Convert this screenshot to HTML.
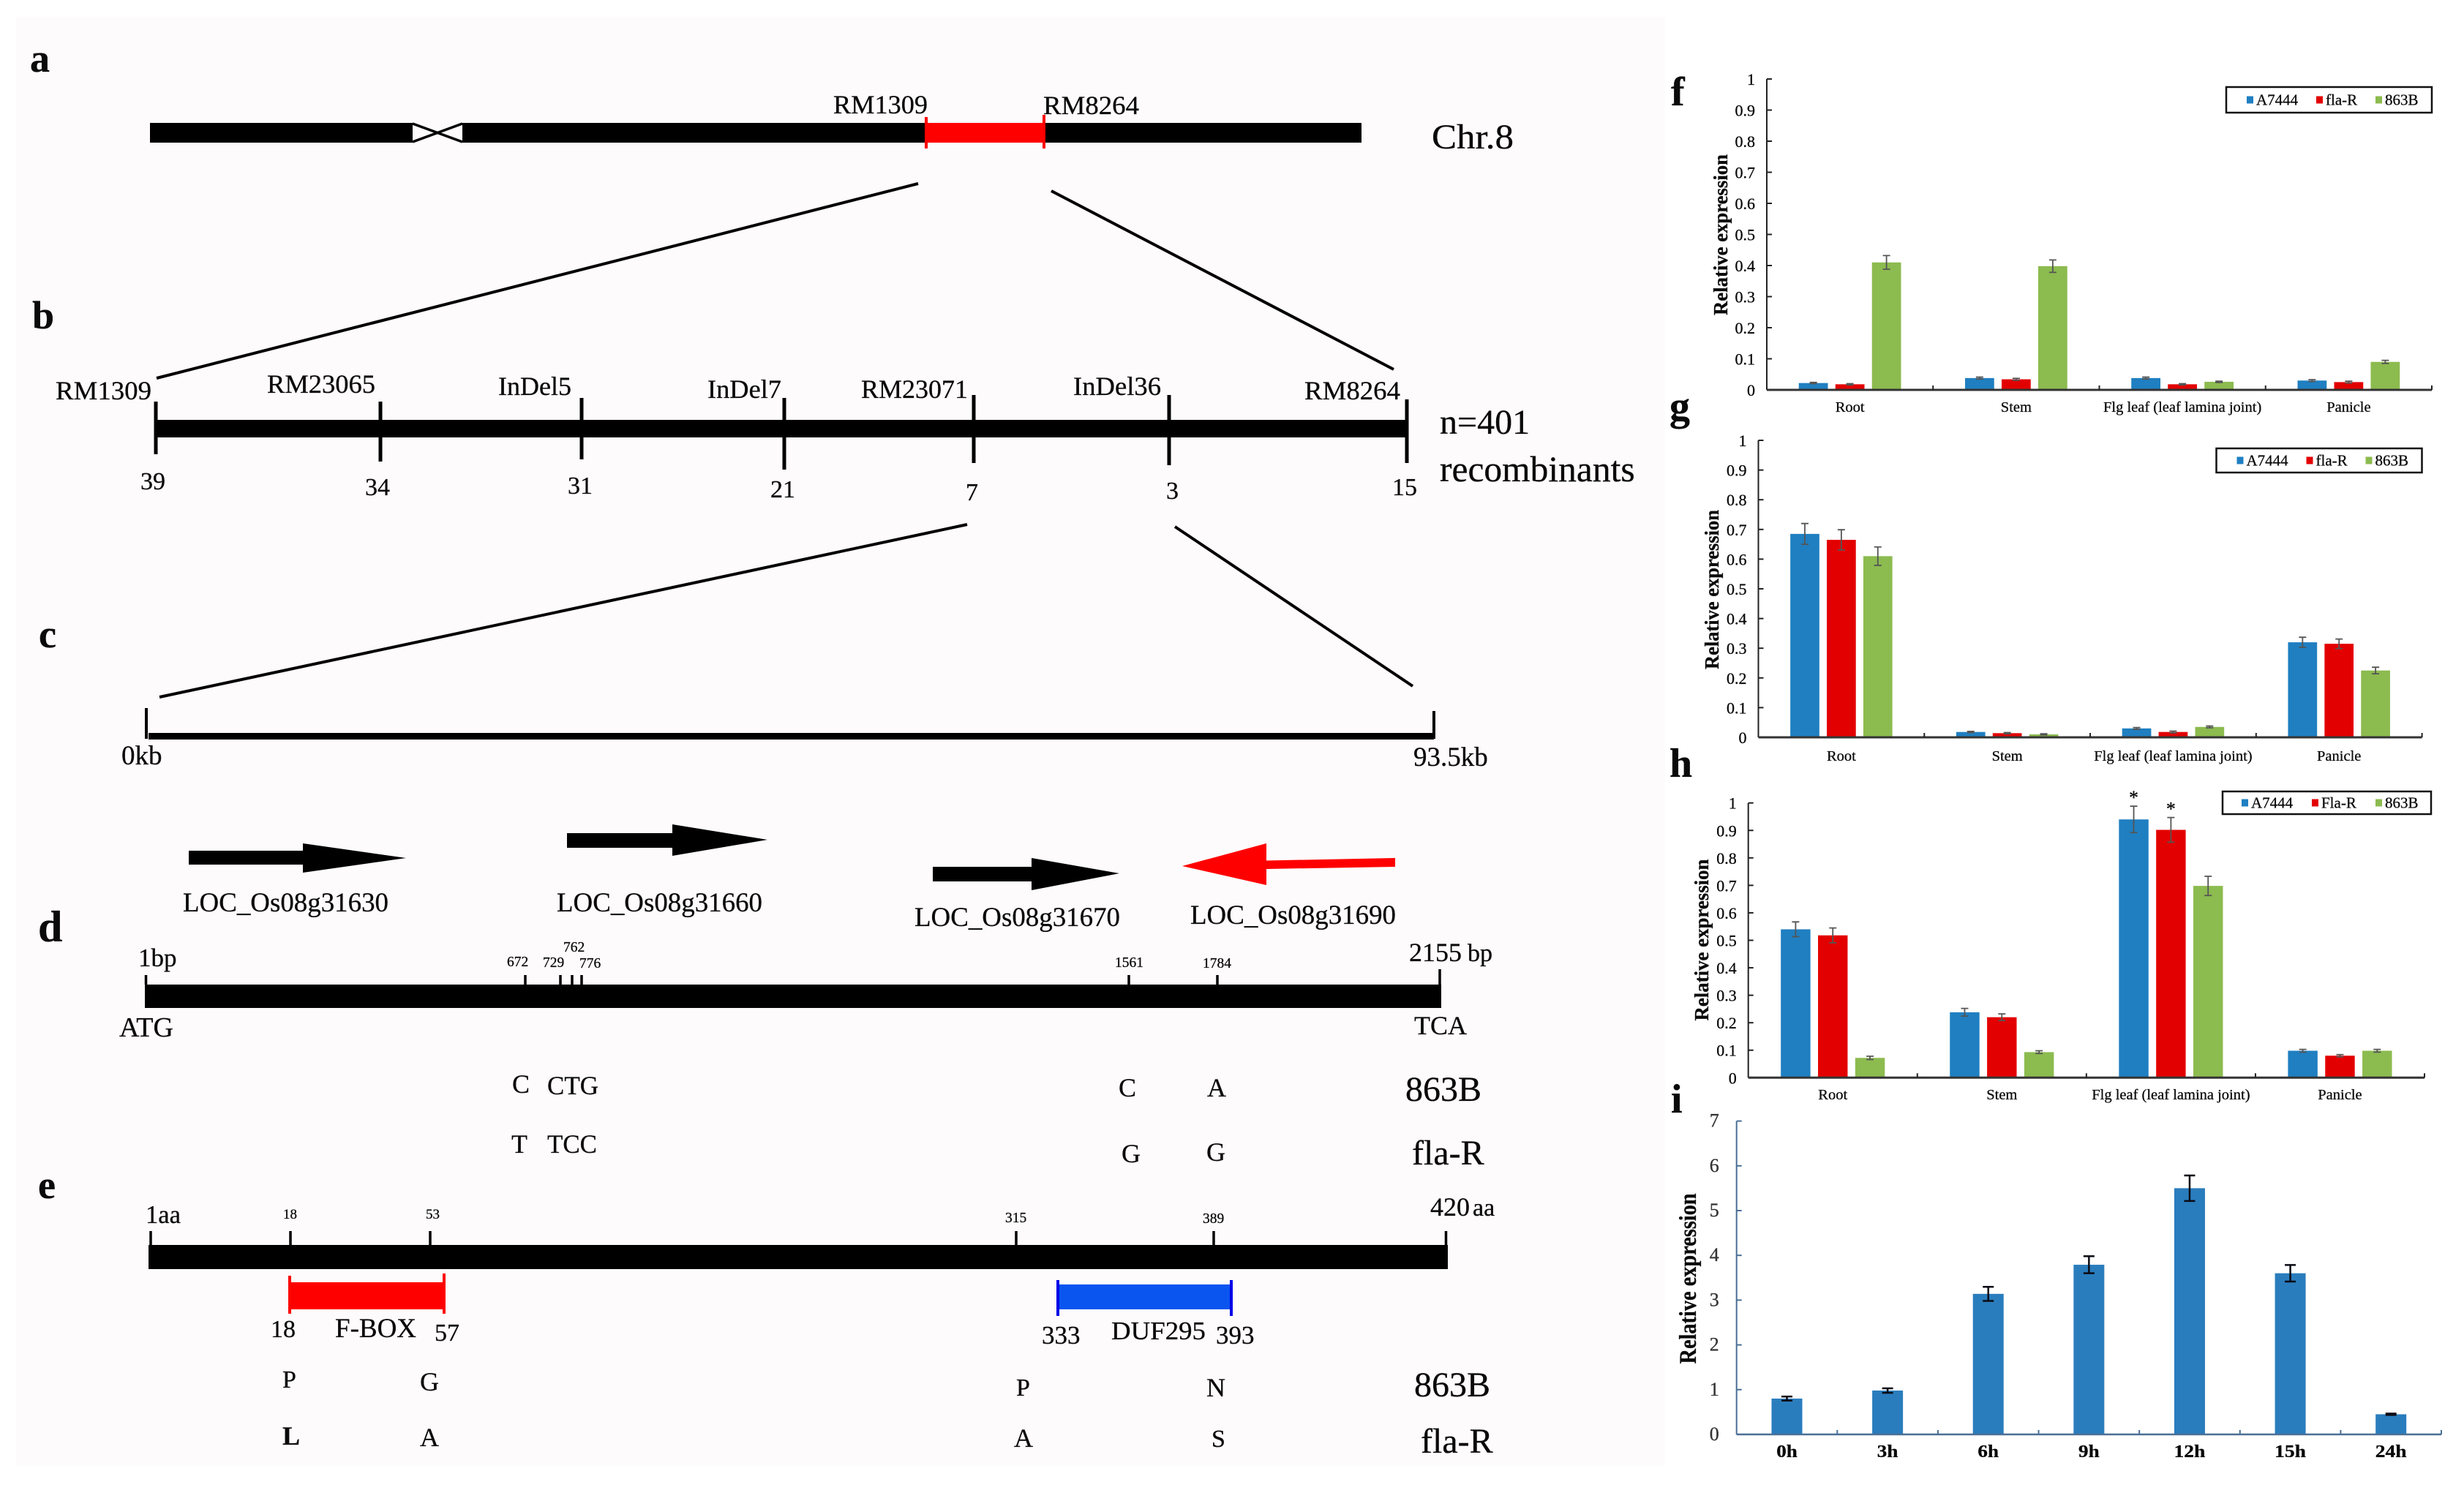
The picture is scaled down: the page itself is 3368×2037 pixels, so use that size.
<!DOCTYPE html>
<html>
<head>
<meta charset="utf-8">
<title>fla-R gene mapping and expression figure</title>
<style>
html,body{margin:0;padding:0;background:#fff;}
svg{display:block;}
text{font-family:"Liberation Serif",serif;fill:#0a0a0a;stroke:#0a0a0a;stroke-width:.3;}
.b{font-weight:bold;}
</style>
</head>
<body>
<svg id="figure" xmlns="http://www.w3.org/2000/svg" width="3368" height="2037" viewBox="0 0 3368 2037">
<rect x="0" y="0" width="3368" height="2037" fill="#ffffff"/>
<rect x="22" y="23" width="2254" height="1981" fill="#fdfbfc"/>

<!-- Panel a -->
<g>
<text class="b" x="41" y="98" font-size="54">a</text>
<rect x="205" y="168" width="359" height="27" fill="#000"/>
<rect x="632" y="168" width="1229" height="27" fill="#000"/>
<path d="M564 169L632 194M564 194L632 169" stroke="#000" stroke-width="3.5" fill="none"/>
<rect x="1266" y="168" width="161" height="27" fill="#fe0000"/>
<rect x="1264" y="160" width="4" height="43" fill="#fe0000"/>
<rect x="1425" y="157" width="4" height="46" fill="#fe0000"/>
<text x="1139" y="155" font-size="36" textLength="129" lengthAdjust="spacingAndGlyphs">RM1309</text>
<text x="1426" y="156" font-size="36" textLength="131" lengthAdjust="spacingAndGlyphs">RM8264</text>
<text x="1957" y="203" font-size="48" textLength="112" lengthAdjust="spacingAndGlyphs">Chr.8</text>
<line x1="214" y1="517" x2="1255" y2="251" stroke="#000" stroke-width="4"/>
<line x1="1437" y1="261" x2="1905" y2="505" stroke="#000" stroke-width="4"/>
</g>

<!-- Panel b -->
<g>
<text class="b" x="44" y="449" font-size="54">b</text>
<rect x="214" y="574" width="1711" height="24" fill="#000"/>
<g stroke="#000" stroke-width="5">
<line x1="213" y1="549" x2="213" y2="621"/>
<line x1="520" y1="549" x2="520" y2="631"/>
<line x1="795" y1="544" x2="795" y2="628"/>
<line x1="1072" y1="544" x2="1072" y2="642"/>
<line x1="1331" y1="540" x2="1331" y2="633"/>
<line x1="1598" y1="540" x2="1598" y2="636"/>
<line x1="1923" y1="546" x2="1923" y2="633"/>
</g>
<text x="76" y="546" font-size="36" textLength="131" lengthAdjust="spacingAndGlyphs">RM1309</text>
<text x="365" y="537" font-size="36" textLength="148" lengthAdjust="spacingAndGlyphs">RM23065</text>
<text x="681" y="540" font-size="36" textLength="100" lengthAdjust="spacingAndGlyphs">InDel5</text>
<text x="967" y="544" font-size="36" textLength="101" lengthAdjust="spacingAndGlyphs">InDel7</text>
<text x="1177" y="544" font-size="36" textLength="146" lengthAdjust="spacingAndGlyphs">RM23071</text>
<text x="1467" y="540" font-size="36" textLength="120" lengthAdjust="spacingAndGlyphs">InDel36</text>
<text x="1783" y="546" font-size="36" textLength="131" lengthAdjust="spacingAndGlyphs">RM8264</text>
<text x="192" y="669" font-size="34">39</text>
<text x="499" y="677" font-size="34">34</text>
<text x="776" y="675" font-size="34">31</text>
<text x="1053" y="680" font-size="34">21</text>
<text x="1320" y="684" font-size="34">7</text>
<text x="1594" y="682" font-size="34">3</text>
<text x="1903" y="677" font-size="34">15</text>
<text x="1968" y="593" font-size="48">n=401</text>
<text x="1968" y="658" font-size="49.5">recombinants</text>
<line x1="218" y1="953" x2="1322" y2="717" stroke="#000" stroke-width="4"/>
<line x1="1606" y1="720" x2="1931" y2="938" stroke="#000" stroke-width="4"/>
</g>

<!-- Panel c -->
<g>
<text class="b" x="53" y="885" font-size="54">c</text>
<rect x="203" y="1002" width="1757" height="9" fill="#000"/>
<line x1="200" y1="968" x2="200" y2="1010" stroke="#000" stroke-width="4"/>
<line x1="1960" y1="972" x2="1960" y2="1010" stroke="#000" stroke-width="4"/>
<text x="166" y="1045" font-size="37">0kb</text>
<text x="1932" y="1047" font-size="37">93.5kb</text>
<polygon points="258,1163 414,1163 414,1153 555,1173 414,1193 414,1182 258,1182" fill="#000"/>
<polygon points="775,1139 919,1139 919,1127 1049,1148 919,1170 919,1159 775,1159" fill="#000"/>
<polygon points="1275,1185 1410,1185 1410,1173 1530,1194 1410,1217 1410,1205 1275,1205" fill="#000"/>
<polygon points="1616,1184 1731,1153 1731,1176.5 1907,1173 1907,1185 1731,1188 1731,1210" fill="#fe0000"/>
<text x="250" y="1246" font-size="37" textLength="281" lengthAdjust="spacingAndGlyphs">LOC_Os08g31630</text>
<text x="761" y="1246" font-size="37" textLength="281" lengthAdjust="spacingAndGlyphs">LOC_Os08g31660</text>
<text x="1250" y="1266" font-size="37" textLength="281" lengthAdjust="spacingAndGlyphs">LOC_Os08g31670</text>
<text x="1627" y="1263" font-size="37" textLength="281" lengthAdjust="spacingAndGlyphs">LOC_Os08g31690</text>
</g>

<!-- Panel d -->
<g>
<text class="b" x="52" y="1287" font-size="60">d</text>
<rect x="198" y="1346" width="1772" height="32" fill="#000"/>
<g stroke="#000" stroke-width="3.5">
<line x1="199.5" y1="1333" x2="199.5" y2="1346"/>
<line x1="718" y1="1333" x2="718" y2="1346"/>
<line x1="766" y1="1333" x2="766" y2="1346"/>
<line x1="782" y1="1333" x2="782" y2="1346"/>
<line x1="795" y1="1333" x2="795" y2="1346"/>
<line x1="1543" y1="1333" x2="1543" y2="1346"/>
<line x1="1664" y1="1333" x2="1664" y2="1346"/>
<line x1="1968" y1="1325" x2="1968" y2="1346"/>
</g>
<text x="189" y="1321" font-size="35">1bp</text>
<text x="693" y="1321" font-size="19.5">672</text>
<text x="742" y="1322" font-size="19.5">729</text>
<text x="770" y="1301" font-size="19.5">762</text>
<text x="792" y="1323" font-size="19.5">776</text>
<text x="1524" y="1322" font-size="19.5">1561</text>
<text x="1644" y="1323" font-size="19.5">1784</text>
<text x="1926" y="1314" font-size="36">2155</text>
<text x="2006" y="1314" font-size="34">bp</text>
<text x="163" y="1417" font-size="38">ATG</text>
<text x="1933" y="1414" font-size="36">TCA</text>
<text x="700" y="1494" font-size="36">C</text>
<text x="748" y="1496" font-size="36" textLength="70" lengthAdjust="spacingAndGlyphs">CTG</text>
<text x="1529" y="1499" font-size="36">C</text>
<text x="1650" y="1499" font-size="36">A</text>
<text x="1921" y="1505" font-size="48">863B</text>
<text x="699" y="1576" font-size="36">T</text>
<text x="748" y="1576" font-size="36" textLength="68" lengthAdjust="spacingAndGlyphs">TCC</text>
<text x="1533" y="1589" font-size="36">G</text>
<text x="1649" y="1587" font-size="36">G</text>
<text x="1930" y="1592" font-size="48">fla-R</text>
</g>

<!-- Panel e -->
<g>
<text class="b" x="52" y="1638" font-size="54">e</text>
<rect x="203" y="1702" width="1776" height="33" fill="#000"/>
<g stroke="#000" stroke-width="3.5">
<line x1="206" y1="1683" x2="206" y2="1702"/>
<line x1="397" y1="1683" x2="397" y2="1702"/>
<line x1="588" y1="1683" x2="588" y2="1702"/>
<line x1="1389" y1="1683" x2="1389" y2="1702"/>
<line x1="1659" y1="1683" x2="1659" y2="1702"/>
<line x1="1976.5" y1="1683" x2="1976.5" y2="1702"/>
</g>
<text x="199" y="1672" font-size="35" textLength="48" lengthAdjust="spacingAndGlyphs">1aa</text>
<text x="387" y="1666" font-size="19">18</text>
<text x="582" y="1666" font-size="19">53</text>
<text x="1374" y="1671" font-size="19.5">315</text>
<text x="1644" y="1672" font-size="19.5">389</text>
<text x="1955" y="1662" font-size="36">420</text>
<text x="2013" y="1662" font-size="34">aa</text>
<rect x="396" y="1753" width="211" height="37" fill="#fe0000"/>
<rect x="394" y="1744" width="4" height="52" fill="#fe0000"/>
<rect x="605" y="1741" width="4" height="55" fill="#fe0000"/>
<text x="370" y="1828" font-size="34">18</text>
<text x="458" y="1828" font-size="37">F-BOX</text>
<text x="594" y="1833" font-size="34">57</text>
<rect x="1446" y="1756" width="236" height="34" fill="#0a55f0"/>
<rect x="1444" y="1750" width="4" height="49" fill="#0000e8"/>
<rect x="1681" y="1750" width="4" height="49" fill="#0000e8"/>
<text x="1424" y="1837" font-size="35">333</text>
<text x="1519" y="1831" font-size="35" textLength="129" lengthAdjust="spacingAndGlyphs">DUF295</text>
<text x="1662" y="1837" font-size="35">393</text>
<text x="386" y="1897" font-size="34">P</text>
<text x="574" y="1901" font-size="36">G</text>
<text x="1389" y="1908" font-size="34">P</text>
<text x="1649" y="1909" font-size="36">N</text>
<text x="1933" y="1909" font-size="48">863B</text>
<text class="b" x="386" y="1975" font-size="36">L</text>
<text x="574" y="1977" font-size="36">A</text>
<text x="1386" y="1978" font-size="36">A</text>
<text x="1656" y="1978" font-size="34">S</text>
<text x="1942" y="1986" font-size="48">fla-R</text>
</g>

<!-- Panel letters for the charts -->
<text class="b" x="2284" y="144" font-size="56">f</text>
<text class="b" x="2282" y="574" font-size="56">g</text>
<text class="b" x="2282" y="1062" font-size="56">h</text>
<text class="b" x="2284" y="1521" font-size="56">i</text>

<g id="charts"></g>
</svg>

<script>
const categories = ['Root', 'Stem', 'Flg leaf (leaf lamina joint)', 'Panicle'];
const yTicksUnit = [0, 0.1, 0.2, 0.3, 0.4, 0.5, 0.6, 0.7, 0.8, 0.9, 1];
const seriesColors = ['#1f7fc1', '#e30000', '#8cbb4f'];

const fSeriesNames = ['A7444', 'fla-R', '863B'];
const fA7444 = [0.022, 0.038, 0.038, 0.030];
const fFlaR = [0.018, 0.034, 0.018, 0.025];
const f863B = [0.410, 0.398, 0.026, 0.090];
const fA7444Err = [0.002, 0.003, 0.003, 0.003];
const fFlaRErr = [0.002, 0.003, 0.002, 0.003];
const f863BErr = [0.022, 0.020, 0.002, 0.005];

const gSeriesNames = ['A7444', 'fla-R', '863B'];
const gA7444 = [0.685, 0.018, 0.030, 0.320];
const gFlaR = [0.665, 0.014, 0.018, 0.315];
const g863B = [0.610, 0.010, 0.035, 0.225];
const gA7444Err = [0.035, 0.002, 0.003, 0.017];
const gFlaRErr = [0.034, 0.002, 0.003, 0.016];
const g863BErr = [0.031, 0.002, 0.003, 0.011];

const hSeriesNames = ['A7444', 'Fla-R', '863B'];
const hA7444 = [0.540, 0.238, 0.940, 0.098];
const hFlaR = [0.518, 0.220, 0.902, 0.080];
const h863B = [0.072, 0.093, 0.698, 0.098];
const hA7444Err = [0.027, 0.014, 0.048, 0.005];
const hFlaRErr = [0.027, 0.012, 0.045, 0.004];
const h863BErr = [0.006, 0.005, 0.035, 0.005];
const hStarCategory = 2;

const timeCategories = ['0h', '3h', '6h', '9h', '12h', '15h', '24h'];
const iTicks = [0, 1, 2, 3, 4, 5, 6, 7];
const iValues = [0.80, 0.98, 3.14, 3.79, 5.50, 3.60, 0.45];
const iErrors = [0.045, 0.05, 0.157, 0.190, 0.285, 0.185, 0.015];

const SVGNS = 'http://www.w3.org/2000/svg';
const chartsRoot = document.getElementById('charts');

function mk(parent, tag, attrs, content) {
  const el = document.createElementNS(SVGNS, tag);
  for (const k in attrs) el.setAttribute(k, attrs[k]);
  if (content !== undefined) el.textContent = content;
  parent.appendChild(el);
  return el;
}

function drawErrorBar(g, x, yHi, yLo, capHalf, color, width) {
  const err = mk(g, 'path', {
    d: 'M' + x + ' ' + yHi + 'V' + yLo + 'M' + (x - capHalf) + ' ' + yHi + 'H' + (x + capHalf) + 'M' + (x - capHalf) + ' ' + yLo + 'H' + (x + capHalf),
    stroke: color, 'stroke-width': width, fill: 'none'
  });
  
  
}

function drawGroupedChart(c) {
  const g = mk(chartsRoot, 'g', {});
  
  
  const yScale = v => c.bottom - v * (c.bottom - c.top);
  const groupW = (c.right - c.left) / categories.length;
  const xCenter = i => c.left + groupW * (i + 0.5);
  const pitch = groupW * 0.22;
  const barW = groupW * 0.175;

  yTicksUnit.forEach(t => {
    const tick = mk(g, 'line', { x1: c.left, x2: c.left + 7, y1: yScale(t), y2: yScale(t), stroke: '#222', 'stroke-width': 2 });
    
    
    const lab = mk(g, 'text', { x: c.left - 16, y: yScale(t) + 8, 'font-size': 22, 'text-anchor': 'end' }, String(t));
    
    
  });

  c.values.forEach((vals, s) => {
    vals.forEach((v, i) => {
      const x = xCenter(i) + (s - 1) * pitch;
      const bar = mk(g, 'rect', { x: x - barW / 2, y: yScale(v), width: barW, height: c.bottom - yScale(v), fill: seriesColors[s] });
      
      
      drawErrorBar(g, x, yScale(v + c.errors[s][i]), yScale(v - c.errors[s][i]), 5, '#555', 1.8);
    });
  });

  const yAxis = mk(g, 'line', { x1: c.left, x2: c.left, y1: c.top, y2: c.bottom, stroke: '#222', 'stroke-width': 2 });
  
  
  const xAxis = mk(g, 'line', { x1: c.left, x2: c.right, y1: c.bottom, y2: c.bottom, stroke: '#333', 'stroke-width': 3 });
  
  

  categories.forEach((name, i) => {
    const tx = c.left + groupW * (i + 1);
    const tick = mk(g, 'line', { x1: tx, x2: tx, y1: c.bottom - 6, y2: c.bottom, stroke: '#222', 'stroke-width': 2 });
    
    
    const lab = mk(g, 'text', { x: xCenter(i), y: c.labelY, 'font-size': 20.5, 'text-anchor': 'middle' }, name);
    
    
  });

  const title = mk(g, 'text', {
    class: 'b', 'font-size': 27, 'text-anchor': 'middle',
    transform: 'translate(' + c.titleX + ' ' + c.titleY + ') rotate(-90)',
    textLength: c.titleLen, lengthAdjust: 'spacingAndGlyphs'
  }, 'Relative expression');
  
  

  const legend = mk(g, 'g', {});
  
  
  const lbox = mk(legend, 'rect', { x: c.legendX, y: c.legendY, width: c.legendW, height: c.legendH, fill: '#fff', stroke: '#111', 'stroke-width': 2.5 });
  
  
  c.names.forEach((n, s) => {
    const sx = c.legendX + c.legendSwatch[s];
    const sw = mk(legend, 'rect', { x: sx, y: c.legendY + c.legendH / 2 - 5, width: 9, height: 10, fill: seriesColors[s] });
    
    
    const t = mk(legend, 'text', { x: sx + 13, y: c.legendY + c.legendH / 2 + 7, 'font-size': 21 }, n);
    
    
  });
  return { g, xCenter, yScale, pitch };
}

drawGroupedChart({
  id: 'f', left: 2415, right: 3324, top: 108, bottom: 533, labelY: 563,
  names: fSeriesNames,
  values: [fA7444, fFlaR, f863B],
  errors: [fA7444Err, fFlaRErr, f863BErr],
  titleX: 2361, titleY: 321, titleLen: 220,
  legendX: 3043, legendY: 119, legendW: 281, legendH: 35, legendSwatch: [28, 123, 204]
});

drawGroupedChart({
  id: 'g', left: 2403.5, right: 3310.6, top: 602, bottom: 1008, labelY: 1040,
  names: gSeriesNames,
  values: [gA7444, gFlaR, g863B],
  errors: [gA7444Err, gFlaRErr, g863BErr],
  titleX: 2349, titleY: 806, titleLen: 218,
  legendX: 3029.5, legendY: 613, legendW: 281, legendH: 33, legendSwatch: [28, 123, 204]
});

const chartH = drawGroupedChart({
  id: 'h', left: 2389.7, right: 3314, top: 1097.7, bottom: 1473.3, labelY: 1503,
  names: hSeriesNames,
  values: [hA7444, hFlaR, h863B],
  errors: [hA7444Err, hFlaRErr, h863BErr],
  titleX: 2335, titleY: 1285, titleLen: 221,
  legendX: 3038, legendY: 1082, legendW: 285, legendH: 31, legendSwatch: [26, 122, 209]
});

[0, 1].forEach(s => {
  const v = (s === 0 ? hA7444 : hFlaR)[hStarCategory];
  const e = (s === 0 ? hA7444Err : hFlaRErr)[hStarCategory];
  const star = mk(chartH.g, 'text', {
    x: chartH.xCenter(hStarCategory) + (s - 1) * chartH.pitch,
    y: chartH.yScale(v + e) - 3,
    'font-size': 26, 'text-anchor': 'middle'
  }, '*');
  
  
});

(function drawTimeChart() {
  const left = 2373.7, right = 3337, top = 1532.6, bottom = 1961;
  const axisColor = '#4a6f96';
  const g = mk(chartsRoot, 'g', {});
  
  
  const yMax = iTicks[iTicks.length - 1];
  const yScale = v => bottom - (v / yMax) * (bottom - top);
  const groupW = (right - left) / timeCategories.length;
  const xCenter = i => left + groupW * (i + 0.5);

  iTicks.forEach(t => {
    const tick = mk(g, 'line', { x1: left, x2: left + 7, y1: yScale(t), y2: yScale(t), stroke: axisColor, 'stroke-width': 2 });
    
    
    const lab = mk(g, 'text', { x: left - 24, y: yScale(t) + 8, 'font-size': 26, 'text-anchor': 'end', style: 'fill:#333;stroke:#333' }, String(t));
    
    
  });

  iValues.forEach((v, i) => {
    const x = xCenter(i);
    const bar = mk(g, 'rect', { x: x - 21, y: yScale(v), width: 42, height: bottom - yScale(v), fill: '#2a7dbd' });
    
    
    drawErrorBar(g, x, yScale(v + iErrors[i]), yScale(v - iErrors[i]), 7.5, '#0a0a14', 2.5);
    const lab = mk(g, 'text', {
      x: x, y: 1992, class: 'b', 'font-size': 24, 'text-anchor': 'middle',
      textLength: timeCategories[i].length * 14.3, lengthAdjust: 'spacingAndGlyphs'
    }, timeCategories[i]);
    
    
    const tx = left + groupW * (i + 1);
    const tick = mk(g, 'line', { x1: tx, x2: tx, y1: bottom - 6, y2: bottom, stroke: axisColor, 'stroke-width': 2 });
    
    
  });

  const yAxis = mk(g, 'line', { x1: left, x2: left, y1: top, y2: bottom, stroke: axisColor, 'stroke-width': 2 });
  
  
  const xAxis = mk(g, 'line', { x1: left, x2: right, y1: bottom, y2: bottom, stroke: axisColor, 'stroke-width': 2.5 });
  
  

  const title = mk(g, 'text', {
    class: 'b', 'font-size': 33, 'text-anchor': 'middle',
    transform: 'translate(2318 1748) rotate(-90)',
    textLength: 233, lengthAdjust: 'spacingAndGlyphs'
  }, 'Relative expression');
  
  
})();
</script>
</body>
</html>
